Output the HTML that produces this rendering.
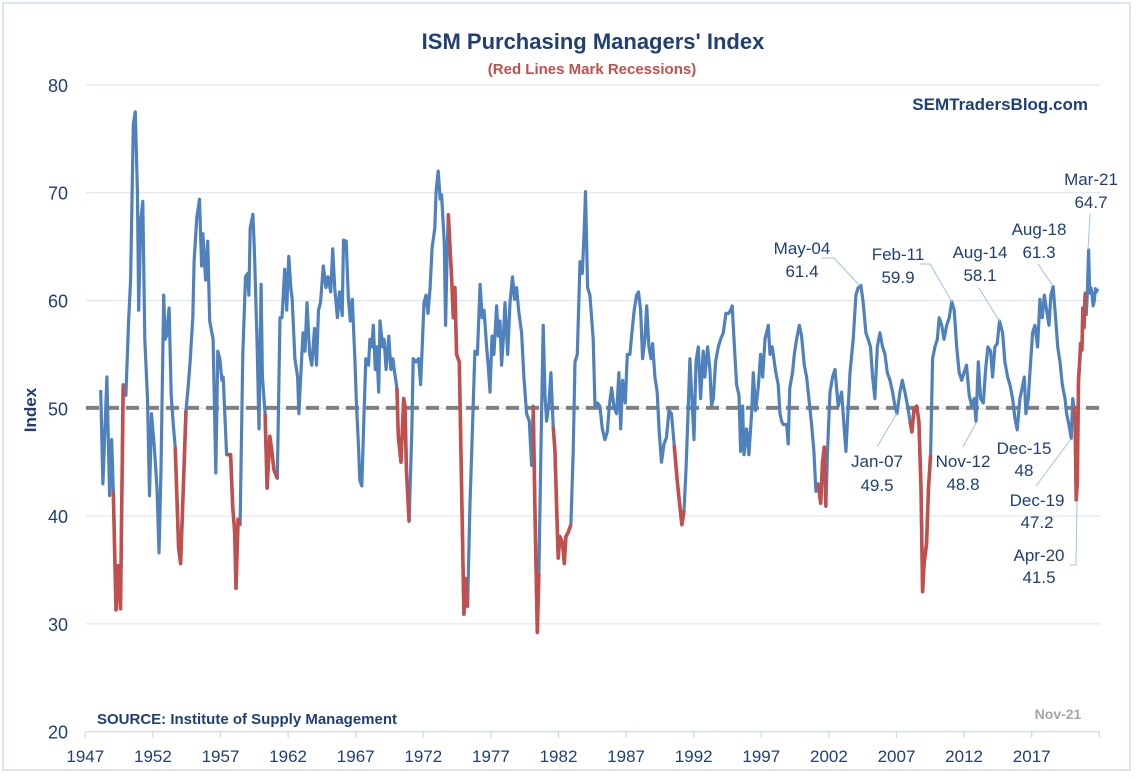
<!DOCTYPE html>
<html><head><meta charset="utf-8"><title>ISM PMI</title>
<style>
html,body{margin:0;padding:0;background:#fff;}
svg{display:block;font-family:"Liberation Sans",sans-serif;}
.ann{font-size:17px;fill:#1F3F75;}
.tick{font-size:17px;fill:#1F3F75;}
</style></head>
<body>
<svg id="chart" width="1138" height="778" viewBox="0 0 1138 778">
<rect x="3" y="3" width="1127" height="767" fill="#fff" stroke="#d0dcec" stroke-width="1.5"/>
<text x="593" y="49" text-anchor="middle" font-size="22" font-weight="bold" fill="#1F3F75">ISM Purchasing Managers' Index</text>
<text x="592" y="74" text-anchor="middle" font-size="15" font-weight="bold" fill="#C0504D">(Red Lines Mark Recessions)</text>
<text x="1088" y="110" text-anchor="end" font-size="17" font-weight="bold" fill="#1F3F75">SEMTradersBlog.com</text>
<text x="97" y="724" font-size="15" font-weight="bold" fill="#1F3F75">SOURCE:  Institute of Supply Management</text>
<text x="1058" y="719" text-anchor="middle" font-size="14" font-weight="bold" fill="#a6a6a6">Nov-21</text>
<text transform="translate(36,410) rotate(-90)" text-anchor="middle" font-size="17" font-weight="bold" fill="#1F3F75">Index</text>
<g id="grid"></g>
<g id="axes"></g>
<line x1="86" y1="407.9" x2="1100" y2="407.9" stroke="#808080" stroke-width="4" stroke-dasharray="13,7"/>
<g id="series"></g>
<g id="annotations">
<text class="ann" text-anchor="middle" x="802" y="254">May-04</text>
<text class="ann" text-anchor="middle" x="802" y="277">61.4</text>
<polyline points="822,258 834,258 860,286" fill="none" stroke="#9dc3e6" stroke-width="1"/>
<text class="ann" text-anchor="middle" x="898" y="260">Feb-11</text>
<text class="ann" text-anchor="middle" x="898" y="283">59.9</text>
<polyline points="920,264 930,264 952,302" fill="none" stroke="#9dc3e6" stroke-width="1"/>
<text class="ann" text-anchor="middle" x="980" y="258">Aug-14</text>
<text class="ann" text-anchor="middle" x="980" y="281">58.1</text>
<line x1="979" y1="288" x2="1000" y2="322" stroke="#9dc3e6" stroke-width="1"/>
<text class="ann" text-anchor="middle" x="1039" y="235">Aug-18</text>
<text class="ann" text-anchor="middle" x="1039" y="258">61.3</text>
<line x1="1038" y1="264" x2="1053" y2="286" stroke="#9dc3e6" stroke-width="1"/>
<text class="ann" text-anchor="middle" x="1091" y="185">Mar-21</text>
<text class="ann" text-anchor="middle" x="1091" y="208">64.7</text>
<line x1="1090" y1="214" x2="1088" y2="250" stroke="#9dc3e6" stroke-width="1"/>
<text class="ann" text-anchor="middle" x="877" y="467">Jan-07</text>
<text class="ann" text-anchor="middle" x="877" y="491">49.5</text>
<line x1="877" y1="447" x2="897" y2="413" stroke="#9dc3e6" stroke-width="1"/>
<text class="ann" text-anchor="middle" x="963" y="467">Nov-12</text>
<text class="ann" text-anchor="middle" x="963" y="490">48.8</text>
<line x1="963" y1="447" x2="976" y2="423" stroke="#9dc3e6" stroke-width="1"/>
<text class="ann" text-anchor="middle" x="1024" y="454">Dec-15</text>
<text class="ann" text-anchor="middle" x="1024" y="476">48</text>
<text class="ann" text-anchor="middle" x="1037" y="506">Dec-19</text>
<text class="ann" text-anchor="middle" x="1037" y="528">47.2</text>
<line x1="1036" y1="486" x2="1071" y2="439" stroke="#9dc3e6" stroke-width="1"/>
<text class="ann" text-anchor="middle" x="1039" y="561">Apr-20</text>
<text class="ann" text-anchor="middle" x="1039" y="583">41.5</text>
<polyline points="1070,565 1076,565 1077,502" fill="none" stroke="#9dc3e6" stroke-width="1"/>
</g>
</svg>
<script>
const yTicks = [20, 30, 40, 50, 60, 70, 80];
const xTickYears = [1947,1952,1957,1962,1967,1972,1977,1982,1987,1992,1997,2002,2007,2012,2017];
const dates = [1948.14,1948.3,1948.6,1948.8,1948.95,1949.07,1949.27,1949.45,1949.6,1949.8,1950.0,1950.2,1950.35,1950.55,1950.7,1950.85,1950.95,1951.1,1951.25,1951.4,1951.6,1951.75,1951.9,1952.1,1952.3,1952.45,1952.6,1952.8,1952.9,1953.0,1953.2,1953.35,1953.5,1953.65,1953.9,1954.05,1954.25,1954.45,1954.6,1954.75,1954.95,1955.05,1955.25,1955.45,1955.6,1955.7,1955.9,1956.05,1956.2,1956.45,1956.65,1956.8,1956.95,1957.1,1957.2,1957.45,1957.75,1957.9,1958.05,1958.15,1958.3,1958.45,1958.65,1958.85,1959.0,1959.1,1959.2,1959.4,1959.5,1959.7,1959.85,1960.0,1960.1,1960.3,1960.45,1960.65,1960.8,1960.95,1961.2,1961.4,1961.55,1961.75,1961.9,1962.05,1962.2,1962.3,1962.5,1962.7,1962.8,1962.9,1963.1,1963.25,1963.4,1963.6,1963.75,1963.95,1964.1,1964.25,1964.4,1964.6,1964.8,1964.95,1965.15,1965.3,1965.45,1965.65,1965.8,1966.0,1966.1,1966.3,1966.45,1966.6,1966.75,1966.95,1967.05,1967.2,1967.3,1967.45,1967.6,1967.75,1967.95,1968.05,1968.2,1968.3,1968.45,1968.55,1968.7,1968.8,1969.0,1969.1,1969.25,1969.45,1969.6,1969.75,1969.85,1970.05,1970.15,1970.35,1970.55,1970.65,1970.75,1970.95,1971.15,1971.25,1971.45,1971.65,1971.8,1971.9,1972.05,1972.2,1972.35,1972.5,1972.65,1972.85,1972.95,1973.1,1973.25,1973.35,1973.55,1973.65,1973.75,1973.85,1974.1,1974.22,1974.34,1974.46,1974.66,1974.83,1975.0,1975.13,1975.28,1975.45,1975.62,1975.82,1976.0,1976.2,1976.36,1976.5,1976.68,1976.8,1976.93,1977.08,1977.22,1977.42,1977.55,1977.67,1977.79,1977.92,1978.04,1978.24,1978.41,1978.6,1978.75,1978.9,1979.05,1979.27,1979.44,1979.64,1979.84,1980.01,1980.13,1980.28,1980.43,1980.55,1980.7,1980.87,1981.0,1981.12,1981.3,1981.44,1981.61,1981.74,1981.86,1981.98,1982.1,1982.3,1982.43,1982.55,1982.72,1982.92,1983.09,1983.22,1983.39,1983.59,1983.76,1983.91,1984.0,1984.15,1984.32,1984.45,1984.57,1984.7,1984.87,1985.06,1985.24,1985.43,1985.61,1985.76,1985.93,1986.1,1986.3,1986.47,1986.6,1986.74,1986.94,1987.09,1987.28,1987.43,1987.6,1987.78,1987.92,1988.07,1988.22,1988.39,1988.52,1988.69,1988.84,1988.96,1989.13,1989.3,1989.45,1989.62,1989.8,1989.99,1990.17,1990.36,1990.56,1990.78,1990.98,1991.13,1991.28,1991.43,1991.6,1991.72,1991.9,1992.02,1992.17,1992.34,1992.51,1992.7,1992.83,1993.03,1993.2,1993.32,1993.45,1993.62,1993.82,1993.99,1994.19,1994.38,1994.58,1994.73,1994.85,1994.98,1995.17,1995.35,1995.47,1995.62,1995.72,1995.91,1996.08,1996.28,1996.41,1996.58,1996.77,1996.95,1997.1,1997.27,1997.52,1997.64,1997.81,1997.96,1998.08,1998.25,1998.38,1998.5,1998.62,1998.87,1998.99,1999.11,1999.31,1999.44,1999.61,1999.81,1999.98,2000.18,2000.35,2000.52,2000.72,2000.89,2001.04,2001.21,2001.39,2001.53,2001.66,2001.78,2001.9,2002.08,2002.27,2002.45,2002.69,2002.94,2003.26,2003.56,2003.8,2004.0,2004.17,2004.37,2004.54,2004.74,2004.91,2005.08,2005.23,2005.4,2005.58,2005.77,2005.97,2006.15,2006.32,2006.52,2006.71,2006.88,2007.04,2007.25,2007.43,2007.62,2007.82,2008.0,2008.14,2008.29,2008.49,2008.66,2008.81,2008.93,2009.05,2009.23,2009.37,2009.52,2009.67,2009.84,2010.02,2010.16,2010.34,2010.51,2010.71,2010.9,2011.08,2011.27,2011.45,2011.64,2011.82,2011.99,2012.18,2012.38,2012.56,2012.75,2012.88,2013.05,2013.22,2013.42,2013.59,2013.76,2013.96,2014.11,2014.28,2014.45,2014.62,2014.85,2015.02,2015.22,2015.39,2015.59,2015.76,2015.93,2016.13,2016.3,2016.45,2016.57,2016.75,2016.92,2017.07,2017.24,2017.44,2017.61,2017.78,2017.93,2018.1,2018.28,2018.42,2018.58,2018.77,2018.92,2019.09,2019.26,2019.46,2019.58,2019.75,2019.92,2020.04,2020.12,2020.21,2020.29,2020.37,2020.46,2020.54,2020.62,2020.71,2020.79,2020.87,2020.96,2021.04,2021.12,2021.21,2021.29,2021.37,2021.46,2021.54,2021.62,2021.71,2021.79,2021.87];
const values = [51.7,43.0,52.9,41.9,47.1,42.3,31.3,35.4,31.4,52.2,51.2,58.1,61.9,76.3,77.5,70.1,59.1,67.4,69.2,56.4,50.9,41.9,49.5,46.4,42.6,36.6,44.3,60.5,56.4,56.7,59.3,51.2,48.6,46.4,37.1,35.6,42.6,49.8,51.9,54.3,58.4,63.6,67.7,69.4,63.2,66.2,61.9,65.5,58.1,56.4,44.0,55.3,54.6,52.6,52.9,45.7,45.7,40.9,38.5,33.3,39.7,39.2,55.0,62.2,62.5,60.5,66.7,68.0,64.9,56.4,48.1,61.5,52.9,49.5,42.6,47.4,46.0,44.3,43.5,58.4,58.4,62.9,59.1,64.1,61.2,60.1,54.6,52.9,49.5,52.2,57.0,55.3,59.8,55.0,54.0,57.4,54.0,59.1,59.8,63.2,61.2,62.2,60.8,64.8,61.2,58.4,60.8,58.6,65.6,65.5,60.3,58.1,60.1,54.3,50.5,46.7,43.3,42.8,48.8,54.6,54.0,56.4,55.7,57.7,53.6,55.7,51.5,58.1,55.7,56.4,53.6,56.7,53.6,54.6,53.6,51.9,47.4,45.0,50.9,50.2,44.3,39.5,47.8,54.6,54.3,54.6,52.2,55.0,59.8,60.5,58.8,61.2,64.9,66.7,70.1,72.0,69.4,69.8,65.3,57.7,64.0,68.0,61.9,58.4,61.2,55.0,54.3,42.6,30.9,34.2,31.6,40.9,47.4,55.3,55.0,61.5,58.4,59.1,55.7,54.0,51.5,56.7,55.0,59.5,56.7,58.1,54.0,56.4,59.8,55.0,59.8,62.2,60.1,61.2,59.1,57.0,52.9,49.5,48.8,44.7,50.2,39.2,29.2,34.7,46.0,57.7,51.2,48.8,50.5,53.3,48.3,46.0,40.9,36.1,38.1,37.5,35.6,38.1,38.5,39.2,46.0,54.3,55.0,63.6,62.5,66.7,70.1,61.2,60.5,58.4,56.4,50.2,50.5,50.2,48.1,47.1,47.8,50.2,51.9,50.2,49.5,53.3,48.1,52.6,50.5,55.0,55.0,57.0,59.1,60.5,60.8,59.1,54.6,56.4,59.5,55.7,54.6,56.0,52.9,51.5,47.8,45.0,46.7,47.3,49.8,49.5,46.6,43.3,40.9,39.2,40.5,44.3,50.2,54.6,50.2,47.1,54.3,55.7,50.9,55.3,52.9,55.7,53.6,50.2,50.9,54.3,55.7,56.4,57.0,58.8,58.8,59.1,59.5,56.4,52.2,51.2,46.0,50.2,45.7,48.1,45.7,49.5,53.3,49.8,51.9,55.0,52.9,56.4,57.7,55.0,55.7,54.3,53.3,52.2,49.5,48.8,48.5,48.5,46.7,51.9,53.3,55.0,56.4,57.7,56.7,54.0,52.9,50.9,48.5,46.0,42.3,43.0,41.2,45.0,46.4,40.9,46.0,51.5,52.9,53.6,50.2,51.5,46.0,53.3,56.4,60.5,61.2,61.4,59.8,57.0,56.4,55.7,52.9,50.9,55.7,57.0,55.7,55.0,53.3,52.6,51.5,50.2,49.5,51.5,52.6,51.5,50.2,48.8,47.8,49.8,50.2,48.8,42.6,33.0,35.7,37.5,42.6,45.7,54.6,55.7,56.4,58.4,57.7,56.4,57.7,58.4,59.9,59.1,55.7,53.3,52.6,53.3,54.0,51.2,50.2,50.9,48.8,54.3,50.9,50.5,53.6,55.7,55.3,52.9,55.7,56.0,58.1,57.0,54.3,52.9,52.2,50.9,49.1,48.0,50.9,51.9,52.9,49.5,50.9,54.3,57.0,57.7,55.7,60.1,58.4,60.5,59.1,57.7,60.5,61.3,58.4,55.7,54.3,52.2,50.9,49.5,48.5,47.2,50.9,50.1,49.1,41.5,43.1,52.6,54.2,56.0,55.4,59.3,57.5,60.7,58.7,60.8,64.7,60.7,61.2,60.6,59.5,59.9,61.1,60.8,61.1];
const recessionStarts = [1949.0,1953.6,1957.4,1960.25,1970.0,1973.8,1980.1,1981.55,1990.5,2001.15,2007.95,2020.1];
const recessionEnds   = [1949.85,1954.5,1958.5,1961.25,1971.0,1975.3,1980.6,1982.95,1991.3,2001.8,2009.55,2020.97];

const NS = 'http://www.w3.org/2000/svg';
const X0 = 85.3, PXY = 13.52, Y20 = 731.7, PXV = 10.78;
function xScale(t){ return X0 + (t - 1947) * PXY; }
function yScale(v){ return Y20 - (v - 20) * PXV; }
function mk(tag, attrs, parent){ const e = document.createElementNS(NS, tag); for (const k in attrs) e.setAttribute(k, attrs[k]); parent.appendChild(e); return e; }

const grid = document.getElementById('grid');
const axes = document.getElementById('axes');
const series = document.getElementById('series');

yTicks.forEach(function(v){
  if (v > 20) {
    const g = mk('line', {x1: 86, x2: 1100, y1: yScale(v), y2: yScale(v), stroke: '#d6e2f2', 'stroke-width': 1}, grid);
    
    
  }
  const t = mk('text', {x: 68, y: yScale(v) + 7, 'text-anchor': 'end', 'font-size': 18, fill: '#1F3F75'}, axes);
  t.textContent = v;
  
  
});

const axisLine = mk('line', {x1: 86, x2: 1100, y1: Y20, y2: Y20, stroke: '#c9d7ea', 'stroke-width': 1.2}, axes);


const tickYears = xTickYears.concat([2022]);
tickYears.forEach(function(y){
  const tk = mk('line', {x1: xScale(y), x2: xScale(y), y1: Y20, y2: Y20 + 6, stroke: '#c9d7ea', 'stroke-width': 1.2}, axes);
  
  
});
xTickYears.forEach(function(y){
  const t = mk('text', {x: xScale(y), y: 762, 'text-anchor': 'middle', 'font-size': 17, fill: '#1F3F75'}, axes);
  t.textContent = y;
  
  
});

let d = '';
for (let i = 0; i < dates.length; i++) d += (i ? 'L' : 'M') + xScale(dates[i]).toFixed(1) + ',' + yScale(values[i]).toFixed(1);
const line = mk('path', {d: d, fill: 'none', stroke: '#4F81BD', 'stroke-width': 3.2, 'stroke-linejoin': 'round'}, series);



for (let r = 0; r < recessionStarts.length; r++) {
  let rd = '', n = 0;
  for (let i = 0; i < dates.length; i++) {
    if (dates[i] >= recessionStarts[r] && dates[i] <= recessionEnds[r]) {
      rd += (n ? 'L' : 'M') + xScale(dates[i]).toFixed(1) + ',' + yScale(values[i]).toFixed(1);
      n++;
    }
  }
  if (n > 1) {
    const rp = mk('path', {d: rd, fill: 'none', stroke: '#C0504D', 'stroke-width': 3.6, 'stroke-linejoin': 'round'}, series);
    
    
  }
}
</script>
</body></html>
